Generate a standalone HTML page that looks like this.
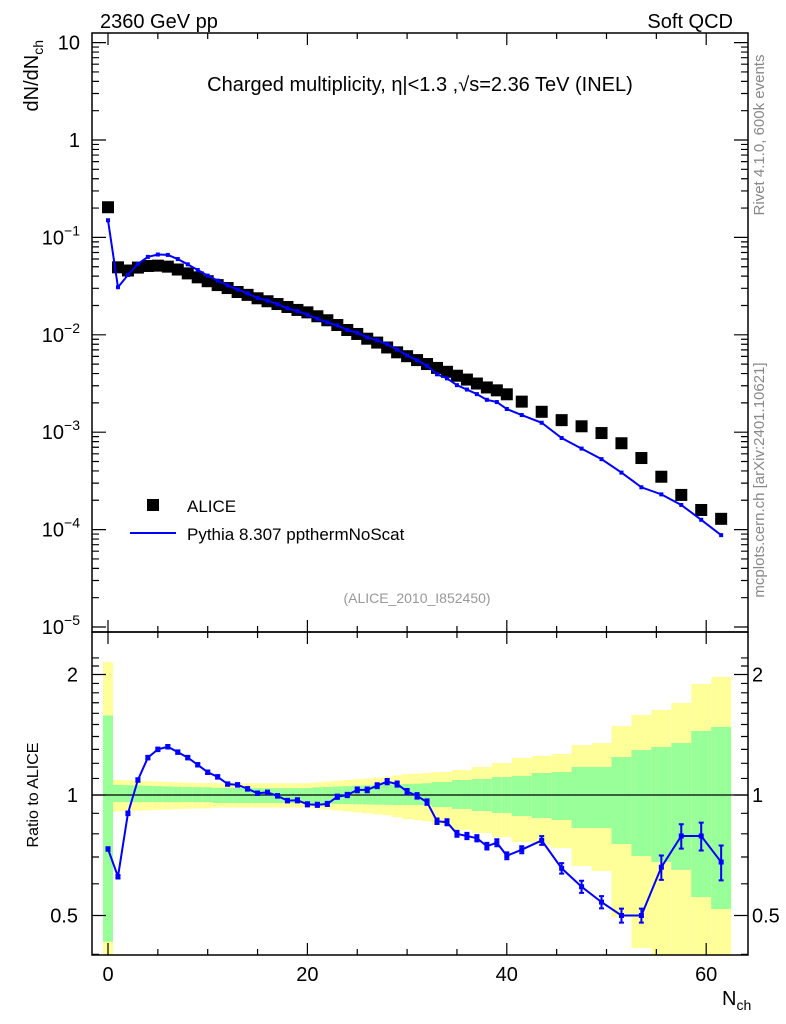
<!DOCTYPE html>
<html><head><meta charset="utf-8"><style>
body{margin:0;background:#fff;}
svg{display:block;font-family:"Liberation Sans",sans-serif;}
</style></head><body>
<svg id="chart" width="786" height="1024" viewBox="0 0 786 1024" xmlns="http://www.w3.org/2000/svg">
<text x="100" y="28" font-size="20">2360 GeV pp</text>
<text x="733" y="28" font-size="20" text-anchor="end">Soft QCD</text>
<text x="420" y="91" font-size="20" text-anchor="middle">Charged multiplicity, η|&lt;1.3 ,√s=2.36 TeV (INEL)</text>
<text transform="translate(38,40) rotate(-90)" font-size="20" text-anchor="end">dN/dN<tspan font-size="14" dy="5">ch</tspan></text>
<text transform="translate(38,795) rotate(-90)" font-size="16" text-anchor="middle">Ratio to ALICE</text>
<text x="722" y="1005" font-size="20">N<tspan font-size="14" dy="5">ch</tspan></text>
<text transform="translate(764,135) rotate(-90)" font-size="15" fill="#888" text-anchor="middle">Rivet 4.1.0,  600k events</text>
<text transform="translate(764,480) rotate(-90)" font-size="15" fill="#888" text-anchor="middle">mcplots.cern.ch [arXiv:2401.10621]</text>
<text x="417" y="603" font-size="14" fill="#999" text-anchor="middle">(ALICE_2010_I852450)</text>
<rect x="147" y="499" width="12" height="12" fill="#000"/>
<text x="187" y="512" font-size="17">ALICE</text>
<line x1="130" y1="533" x2="176" y2="533" stroke="#0000ff" stroke-width="2"/>
<text x="187" y="540" font-size="17">Pythia 8.307 ppthermNoScat</text>
<g id="g"></g>
</svg>
<script>
const nch=[0,1,2,3,4,5,6,7,8,9,10,11,12,13,14,15,16,17,18,19,20,21,22,23,24,25,26,27,28,29,30,31,32,33,34,35,36,37,38,39,40,41.5,43.5,45.5,47.5,49.5,51.5,53.5,55.5,57.5,59.5,61.5];
const binWidth=[1,1,1,1,1,1,1,1,1,1,1,1,1,1,1,1,1,1,1,1,1,1,1,1,1,1,1,1,1,1,1,1,1,1,1,1,1,1,1,1,1,2,2,2,2,2,2,2,2,2,2,2];
const alice=[0.204,0.0493,0.0457,0.0490,0.0509,0.0513,0.0501,0.0468,0.0427,0.0389,0.0355,0.0324,0.0302,0.0275,0.0257,0.0237,0.0221,0.0207,0.0193,0.0180,0.0170,0.0155,0.0141,0.0126,0.0112,0.0102,0.00912,0.00832,0.00741,0.00661,0.00603,0.00550,0.00501,0.00457,0.00417,0.00380,0.00347,0.00316,0.00288,0.00269,0.00245,0.00206,0.00162,0.00133,0.00115,0.00098,0.00077,0.000543,0.000349,0.000227,0.000159,0.000129];
const pythia=[0.150,0.0308,0.0411,0.0534,0.0631,0.0667,0.0661,0.0599,0.0529,0.0463,0.0405,0.0360,0.0322,0.0292,0.0266,0.0239,0.0224,0.0206,0.0187,0.0175,0.0161,0.0146,0.0134,0.0125,0.0112,0.0105,0.00939,0.00878,0.00800,0.00704,0.00615,0.00547,0.00481,0.00393,0.00357,0.00304,0.00274,0.00246,0.00215,0.00204,0.00173,0.00150,0.00125,0.000872,0.000679,0.000529,0.000385,0.000272,0.000230,0.000179,0.000126,0.0000877];
const ratio=[0.733,0.625,0.90,1.09,1.24,1.30,1.32,1.28,1.24,1.19,1.14,1.11,1.065,1.06,1.036,1.01,1.015,0.995,0.968,0.97,0.948,0.945,0.95,0.99,1.0,1.03,1.03,1.055,1.08,1.065,1.02,0.995,0.96,0.86,0.855,0.80,0.79,0.78,0.745,0.76,0.705,0.73,0.77,0.656,0.59,0.54,0.50,0.50,0.66,0.79,0.79,0.68];
const ratioErr=[0.01,0.01,0.01,0.01,0.01,0.01,0.01,0.01,0.01,0.01,0.01,0.01,0.01,0.01,0.01,0.01,0.01,0.01,0.01,0.012,0.012,0.012,0.012,0.012,0.012,0.014,0.014,0.014,0.015,0.015,0.015,0.016,0.016,0.016,0.017,0.017,0.018,0.018,0.019,0.02,0.02,0.02,0.025,0.03,0.035,0.035,0.04,0.04,0.07,0.07,0.08,0.1];
const yellowHi=[2.15,1.09,1.088,1.085,1.083,1.08,1.078,1.076,1.074,1.072,1.071,1.07,1.07,1.07,1.07,1.07,1.07,1.07,1.07,1.07,1.07,1.075,1.08,1.085,1.09,1.095,1.10,1.105,1.11,1.12,1.128,1.13,1.135,1.141,1.141,1.155,1.155,1.175,1.175,1.202,1.202,1.237,1.252,1.266,1.333,1.349,1.487,1.585,1.631,1.698,1.894,1.972];
const greenHi=[1.58,1.06,1.058,1.056,1.054,1.052,1.05,1.048,1.047,1.046,1.045,1.042,1.042,1.041,1.041,1.04,1.04,1.04,1.04,1.04,1.04,1.045,1.047,1.05,1.052,1.055,1.057,1.06,1.062,1.064,1.065,1.067,1.07,1.078,1.078,1.09,1.09,1.096,1.096,1.109,1.109,1.116,1.135,1.141,1.175,1.175,1.244,1.295,1.318,1.349,1.445,1.479];
const greenLo=[0.43,0.96,0.96,0.96,0.96,0.96,0.96,0.96,0.96,0.96,0.96,0.955,0.955,0.955,0.955,0.955,0.955,0.955,0.955,0.955,0.955,0.952,0.951,0.95,0.949,0.948,0.947,0.946,0.945,0.944,0.944,0.944,0.944,0.933,0.933,0.923,0.923,0.912,0.912,0.902,0.902,0.886,0.876,0.866,0.827,0.827,0.754,0.704,0.680,0.650,0.556,0.519];
const yellowLo=[0.2,0.91,0.912,0.914,0.916,0.918,0.92,0.922,0.924,0.925,0.926,0.93,0.93,0.93,0.93,0.93,0.93,0.93,0.93,0.93,0.93,0.925,0.92,0.915,0.91,0.905,0.90,0.895,0.89,0.88,0.871,0.866,0.86,0.841,0.841,0.818,0.818,0.804,0.804,0.785,0.785,0.763,0.75,0.737,0.665,0.646,0.496,0.415,0.2,0.2,0.2,0.2];
const xTicks=[0,20,40,60];
const mainTicks=[1,0,-1,-2,-3,-4,-5];
const ratioTicks=[0.5,1,2];

const NS='http://www.w3.org/2000/svg';
const g=document.getElementById('g');
const L=92,R=748,T=33,M=632,B=955;
const X=n=>108+9.97*n;
const Y=v=>140-97.4*Math.log10(v);
const YR=r=>Math.min(B,Math.max(M,795-120.5*Math.log2(r)));
function mk(tag,attrs,parent){const e=document.createElementNS(NS,tag);for(const k in attrs)e.setAttribute(k,attrs[k]);(parent||g).appendChild(e);return e;}

// bands
for(let i=0;i<nch.length;i++){
  const x0=X(nch[i]-binWidth[i]/2),x1=X(nch[i]+binWidth[i]/2);
  let r=mk('rect',{x:x0,y:YR(yellowHi[i]),width:x1-x0,height:YR(yellowLo[i])-YR(yellowHi[i]),fill:'#ffff99'});
  
  
  r=mk('rect',{x:x0,y:YR(greenHi[i]),width:x1-x0,height:YR(greenLo[i])-YR(greenHi[i]),fill:'#99ff99'});
  
  
}
let ref=mk('line',{x1:L,x2:R,y1:YR(1),y2:YR(1),stroke:'#000','stroke-width':1.2});



// alice markers
for(let i=0;i<nch.length;i++){
  const m=mk('rect',{x:X(nch[i])-6,y:Y(alice[i])-6,width:12,height:12,fill:'#000'});
  
  
}
// pythia main
let pm=mk('polyline',{points:nch.map((n,i)=>X(n)+','+Y(pythia[i])).join(' '),fill:'none',stroke:'#0000ff','stroke-width':2});


for(let i=0;i<nch.length;i++){
  const d=mk('rect',{x:X(nch[i])-2,y:Y(pythia[i])-2,width:4,height:4,fill:'#0000ff'});
  
  
}
// ratio
let pr=mk('polyline',{points:nch.map((n,i)=>X(n)+','+YR(ratio[i])).join(' '),fill:'none',stroke:'#0000ff','stroke-width':2});


for(let i=0;i<nch.length;i++){
  const x=X(nch[i]),y1=YR(ratio[i]*(1+ratioErr[i])),y2=YR(ratio[i]*(1-ratioErr[i]));
  const e=mk('path',{d:`M${x},${y1}V${y2}M${x-2.5},${y1}h5M${x-2.5},${y2}h5`,stroke:'#0000ff','stroke-width':2,fill:'none'});
  
  
  const d=mk('rect',{x:x-2.5,y:YR(ratio[i])-2.5,width:5,height:5,fill:'#0000ff'});
  
  
}
// frames
let f1=mk('rect',{x:L,y:T,width:R-L,height:M-T,fill:'none',stroke:'#000','stroke-width':1.5});


let f2=mk('rect',{x:L,y:M,width:R-L,height:B-M,fill:'none',stroke:'#000','stroke-width':1.5});


// x ticks
let tp='';
for(let n=0;n<=64;n+=5){const x=X(n),len=n%20===0?12:6;
  tp+=`M${x},${B}v${-len}M${x},${M}v${len}M${x},${M}v${-len}M${x},${T}v${len}`;}
// main y ticks
for(let d=-5;d<=1;d++){for(let k=1;k<10;k++){const v=k*Math.pow(10,d);const y=Y(v);if(y<T||y>M)continue;const len=k===1?14:7;
  tp+=`M${L},${y}h${len}M${R},${y}h${-len}`;}}
// ratio y ticks
for(const v of [0.4,0.5,0.6,0.7,0.8,0.9,1,1.1,1.2,1.3,1.4,1.5,1.6,1.7,1.8,1.9,2,2.1,2.2]){const y=795-120.5*Math.log2(v);if(y<M||y>B)continue;const len=(v===0.5||v===1||v===2)?14:7;
  tp+=`M${L},${y}h${len}M${R},${y}h${-len}`;}
let tk=mk('path',{d:tp,stroke:'#000','stroke-width':1.2,fill:'none'});


for(const n of xTicks){const t=mk('text',{x:X(n),y:981,'font-size':20,'text-anchor':'middle'});t.textContent=n;
  
  }
for(const p of mainTicks){const t=mk('text',{x:80,y:Y(Math.pow(10,p))+7,'font-size':20,'text-anchor':'end'});
  if(p===1)t.textContent='10';else if(p===0)t.textContent='1';else{t.textContent='10';const s=mk('tspan',{dy:-9,'font-size':14},t);s.textContent=String(p).replace('-','−');}
  
  }
for(const r of ratioTicks){for(const side of [0,1]){const t=mk('text',{x:side?752:78,y:YR(r)+7,'font-size':20,'text-anchor':side?'start':'end'});t.textContent=r;
  
  }}
</script>
</body></html>
